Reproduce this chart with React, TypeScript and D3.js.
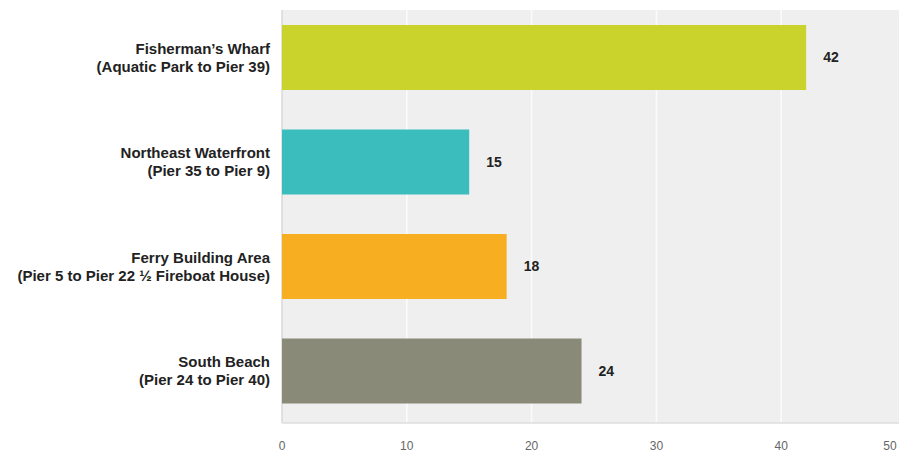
import React from "react";
import * as d3 from "d3";

const categories: string[][] = [
  ["Fisherman\u2019s Wharf", "(Aquatic Park to Pier 39)"],
  ["Northeast Waterfront", "(Pier 35 to Pier 9)"],
  ["Ferry Building Area", "(Pier 5 to Pier 22 \u00BD Fireboat House)"],
  ["South Beach", "(Pier 24 to Pier 40)"],
];
const values: number[] = [42, 15, 18, 24];
const colors: string[] = ["#cad32b", "#3bbdbe", "#f8ae21", "#8a8a79"];
const ticks: number[] = [0, 10, 20, 30, 40, 50];

const W = 899;
const H = 453;

export default function App() {
  const left = 282;
  const top = 10;
  const bottom = 423;
  const x = d3.scaleLinear().domain([0, 50]).range([left, 906]);
  const y = d3
    .scaleBand<number>()
    .domain(d3.range(categories.length))
    .range([5.25, 423.25])
    .paddingInner(0.378)
    .paddingOuter(0.189);
  const font = "'Liberation Sans', Arial, Helvetica, sans-serif";
  return (
    <svg
      width={W}
      height={H}
      style={{ position: "absolute", left: 0, top: 0, background: "#fff" }}
      fontFamily={font}
    >
      <rect x={left} y={top} width={W - left} height={bottom - top} fill="#efefef" />
      {ticks.slice(1).map((t) => (
        <line key={t} x1={x(t)} x2={x(t)} y1={top} y2={bottom} stroke="#fbfbfb" strokeWidth={1.5} />
      ))}
      <line x1={left} x2={left} y1={top} y2={bottom} stroke="#d8d8d8" strokeWidth={1.5} />
      <line x1={left} x2={W} y1={bottom} y2={bottom} stroke="#dedede" strokeWidth={1.5} />
      {values.map((v, i) => {
        const by = y(i)!;
        const bh = y.bandwidth();
        const cy = by + bh / 2;
        return (
          <g key={i}>
            <rect x={x(0)} y={by} width={x(v) - x(0)} height={bh} fill={colors[i]} />
            <text
              x={x(v) + 17}
              y={cy}
              dy="0.35em"
              fontSize={14}
              fontWeight="bold"
              fill="#222"
            >
              {v}
            </text>
            <text textAnchor="end" fontSize={15} fontWeight="bold" fill="#222">
              <tspan x={270} y={cy - 9} dy="0.35em">
                {categories[i][0]}
              </tspan>
              <tspan x={270} y={cy + 9} dy="0.35em">
                {categories[i][1]}
              </tspan>
            </text>
          </g>
        );
      })}
      {ticks.map((t) => (
        <text
          key={t}
          x={Math.min(x(t), W - 9)}
          y={450}
          textAnchor="middle"
          fontSize={12}
          fill="#666"
        >
          {t}
        </text>
      ))}
    </svg>
  );
}
